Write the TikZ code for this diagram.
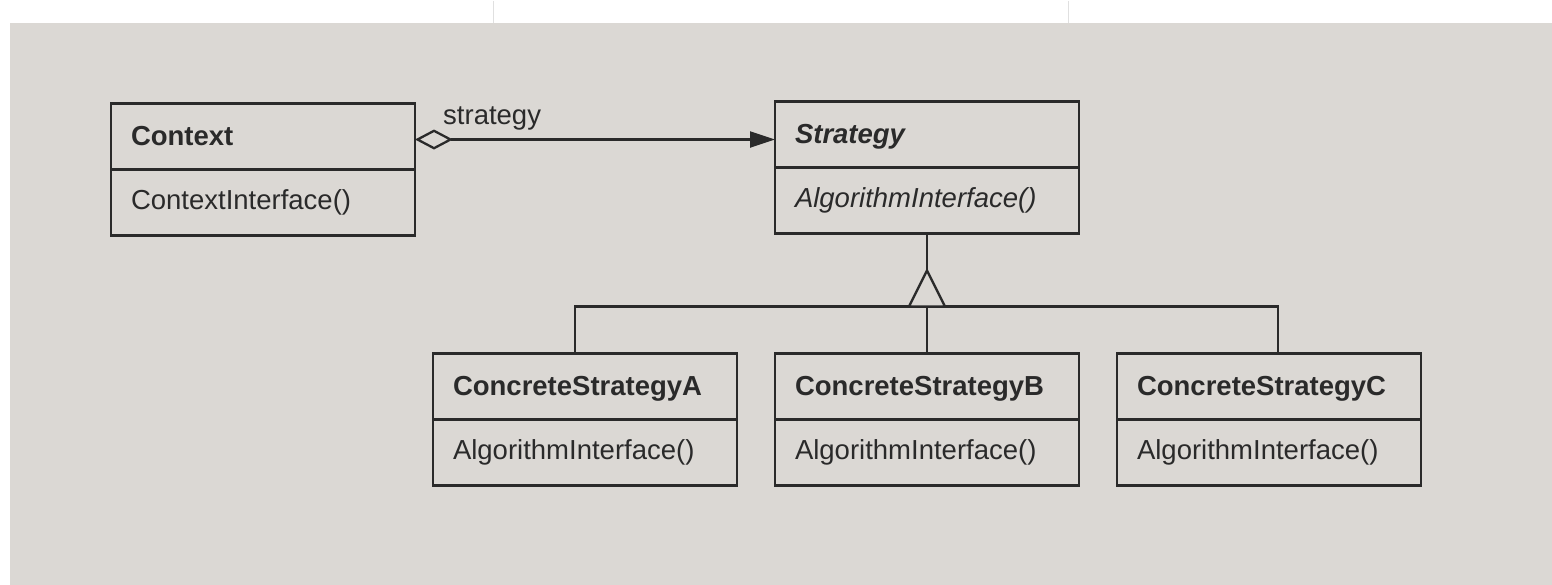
\documentclass[tikz,border=0pt]{standalone}
\usepackage{fontspec}
\setmainfont{Liberation Sans}
\usetikzlibrary{arrows.meta,positioning}
\definecolor{paper}{RGB}{219,216,212}
\definecolor{ink}{RGB}{42,42,42}
\begin{document}
\begin{tikzpicture}[x=1pt,y=-1pt,
  classhead/.style={draw=ink, line width=2.3pt, text=ink,
    font=\fontsize{27.5}{30}\selectfont\bfseries,
    text width=264pt, inner xsep=20pt, inner ysep=0pt, outer sep=0pt,
    minimum height=66pt, text height=20pt, text depth=2pt,
    align=left, anchor=north west},
  classbody/.style={classhead, font=\fontsize{27.5}{30}\selectfont,
    text depth=6pt, anchor=north, at={(#1.south)}},
  link/.style={draw=ink, line width=2.3pt},
  label/.style={text=ink, font=\fontsize{27.5}{30}\selectfont, inner sep=0pt}]

  % page and scan margin
  \fill[white] (0,0) rectangle (1552,584);
  \fill[paper] (10,22) rectangle (1552,584);
  \draw[black!12, line width=1pt] (493,0) -- (493,22) (1068,0) -- (1068,22);
  \useasboundingbox (0,0) rectangle (1552,584);

  % classes
  \node[classhead] (ctxH) at (111,103) {Context};
  \node[classbody=ctxH] (ctxB) {ContextInterface()};

  \node[classhead, font=\fontsize{27.5}{30}\selectfont\bfseries\itshape] (strH) at (775,101) {Strategy};
  \node[classbody=strH, font=\fontsize{27.5}{30}\selectfont\itshape] (strB) {AlgorithmInterface()};

  \node[classhead] (caH) at (433,353) {ConcreteStrategyA};
  \node[classbody=caH] (caB) {AlgorithmInterface()};

  \node[classhead] (cbH) at (775,353) {ConcreteStrategyB};
  \node[classbody=cbH] (cbB) {AlgorithmInterface()};

  \node[classhead] (ccH) at (1117,353) {ConcreteStrategyC};
  \node[classbody=ccH] (ccB) {AlgorithmInterface()};

  % aggregation Context -> Strategy
  \draw[link, {Diamond[open,length=38pt,width=20pt]}-{Triangle[length=25pt,width=16pt]}]
    ([yshift=-3pt]ctxH.east) -- ([yshift=-3pt]ctxH.east -| strH.west);
  \node[label, anchor=base west] (rolelbl) at (443,124) {strategy};

  % inheritance tree
  \coordinate (apex) at (927,270);
  \coordinate (j) at (927,306);
  \coordinate (dA) at (575,306);
  \coordinate (dC) at (1278,306);
  \draw[link] (strB.south) -- (apex);
  \draw[link] (dA |- caH.north) -- (dA) -- (dC) -- (dC |- ccH.north);
  \draw[link] (j) -- (cbH.north);
  \draw[link, fill=paper, line join=miter] ([xshift=-18pt]j) -- (apex) -- ([xshift=18pt]j) -- cycle;
\end{tikzpicture}
\end{document}
